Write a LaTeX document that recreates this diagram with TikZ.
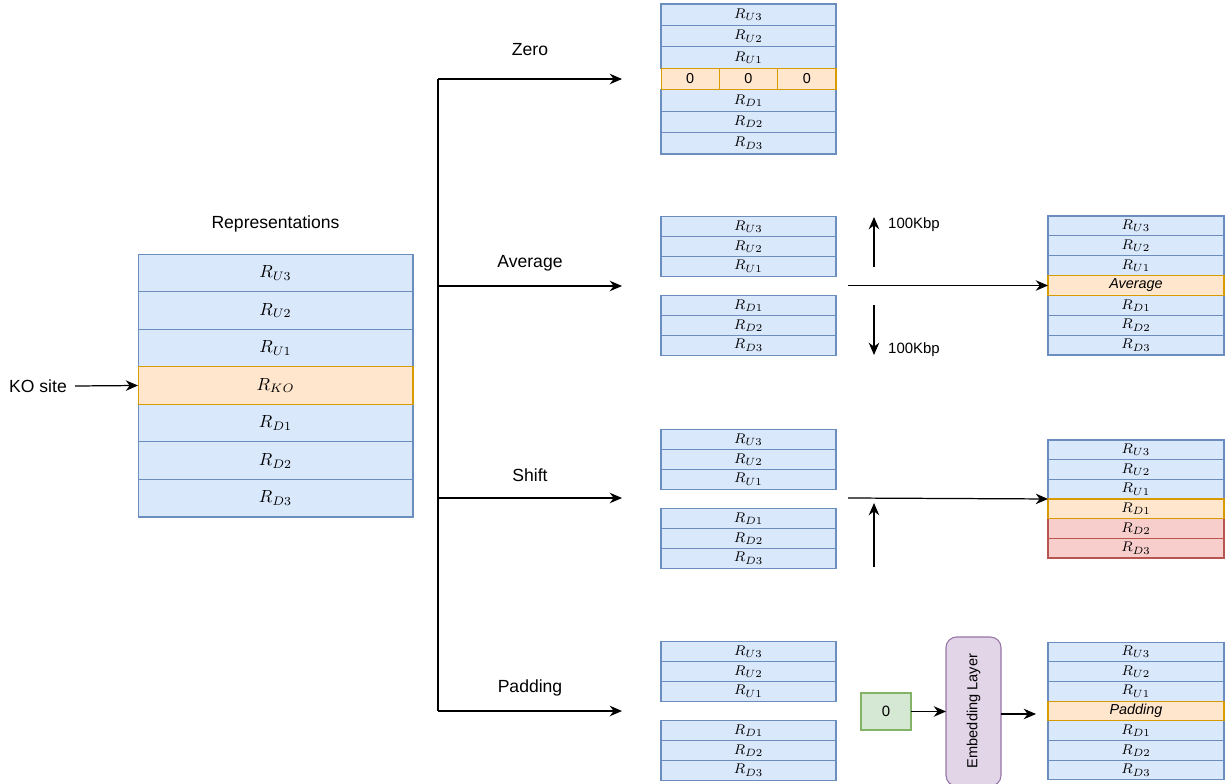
\documentclass[tikz,border=0pt]{standalone}
\usepackage[no-math]{fontspec}
\setmainfont{Liberation Sans}
\usetikzlibrary{arrows.meta}
\definecolor{bluefill}{HTML}{DAE8FC}
\definecolor{bluedraw}{HTML}{6C8EBF}
\definecolor{orangefill}{HTML}{FFE6CC}
\definecolor{orangedraw}{HTML}{D79B00}
\definecolor{redfill}{HTML}{F8CECC}
\definecolor{reddraw}{HTML}{B85450}
\definecolor{greenfill}{HTML}{D5E8D4}
\definecolor{greendraw}{HTML}{82B366}
\definecolor{purplefill}{HTML}{E1D5E7}
\definecolor{purpledraw}{HTML}{9673A6}
\begin{document}
\begin{tikzpicture}[x=0.02cm,y=-0.02cm]
\tikzstyle{cell}=[draw,line width=0.6pt,inner sep=0pt,outer sep=0pt,font=\fontsize{8.2}{9}\selectfont]
\tikzstyle{bigcell}=[cell,minimum width=5.5cm,minimum height=0.751cm,font=\fontsize{10.3}{12}\selectfont]
\tikzstyle{midcell}=[cell,minimum width=3.5cm,minimum height=0.394cm]
\tikzstyle{zerocell}=[cell,minimum width=3.5cm,minimum height=0.429cm]
\tikzstyle{outcell}=[cell,minimum width=3.52cm,minimum height=0.396cm]
\tikzstyle{blue}=[fill=bluefill,draw=bluedraw]
\tikzstyle{orange}=[fill=orangefill,draw=orangedraw]
\tikzstyle{red}=[fill=redfill,draw=reddraw]
\tikzstyle{label}=[font=\fontsize{10}{12}\selectfont]
\tikzstyle{small}=[font=\fontsize{8.5}{10}\selectfont]
\tikzstyle{edge}=[line width=0.7pt,-{Stealth[length=7pt,width=6pt]}]
\useasboundingbox (0,0) rectangle (1225,784);
% representations
\node[label] (reptitle) at (275.5,224) {Representations};
\node[bigcell,blue] (rU3) at (275.5,272.8) {$R_{U3}$};
\node[bigcell,blue] (rU2) at (275.5,310.4) {$R_{U2}$};
\node[bigcell,blue] (rU1) at (275.5,348.0) {$R_{U1}$};
\node[bigcell,blue] (rD1) at (275.5,423.1) {$R_{D1}$};
\node[bigcell,blue] (rD2) at (275.5,460.7) {$R_{D2}$};
\node[bigcell,blue] (rD3) at (275.5,498.2) {$R_{D3}$};
\node[bigcell,orange] (rKO) at (275.5,385.5) {$R_{KO}$};
\node[label] (kosite) at (38,386) {KO site};
\coordinate (kostart) at (75,386);
\draw[edge] (kostart) -- (rKO.west);
% branches
\coordinate (split0) at (438,79);
\coordinate (split1) at (438,286);
\coordinate (split2) at (438,498);
\coordinate (split3) at (438,711);
\coordinate (zeroend) at (622,79);
\coordinate (avgend) at (622,286);
\coordinate (shiftend) at (622,498);
\coordinate (padend) at (622,711);
\draw[line width=0.7pt] (split0) -- (split3);
\draw[edge] (split0) -- (zeroend);
\draw[edge] (split1) -- (avgend);
\draw[edge] (split2) -- (shiftend);
\draw[edge] (split3) -- (padend);
\node[label] (zerolabel) at (530,50) {Zero};
\node[label] (avglabel) at (530,263) {Average};
\node[label] (shiftlabel) at (530,475) {Shift};
\node[label] (padlabel) at (530,688) {Padding};
% zero
\node[zerocell,blue] (zU3) at (748.5,14.7) {$R_{U3}$};
\node[zerocell,blue] (zU2) at (748.5,36.1) {$R_{U2}$};
\node[zerocell,blue] (zU1) at (748.5,57.6) {$R_{U1}$};
\node[zerocell,blue] (zD1) at (748.5,100.4) {$R_{D1}$};
\node[zerocell,blue] (zD2) at (748.5,121.9) {$R_{D2}$};
\node[zerocell,blue] (zD3) at (748.5,143.3) {$R_{D3}$};
\node[zerocell,orange,minimum width=1.167cm] (z0a) at (690.2,79.0) {0};
\node[zerocell,orange,minimum width=1.167cm] (z0b) at (748.5,79.0) {0};
\node[zerocell,orange,minimum width=1.167cm] (z0c) at (806.8,79.0) {0};
% average
\node[midcell,blue] (aU3) at (748.5,226.8) {$R_{U3}$};
\node[midcell,blue] (aU2) at (748.5,246.5) {$R_{U2}$};
\node[midcell,blue] (aU1) at (748.5,266.2) {$R_{U1}$};
\node[midcell,blue] (aD1) at (748.5,305.8) {$R_{D1}$};
\node[midcell,blue] (aD2) at (748.5,325.5) {$R_{D2}$};
\node[midcell,blue] (aD3) at (748.5,345.2) {$R_{D3}$};
\coordinate (aupstart) at (874,267);
\coordinate (aupend) at (874,217);
\coordinate (adownstart) at (874,305);
\coordinate (adownend) at (874,355);
\draw[edge] (aupstart) -- (aupend);
\draw[edge] (adownstart) -- (adownend);
\node[small,anchor=west] (aupkbp) at (882,225) {100Kbp};
\node[small,anchor=west] (adownkbp) at (882,350) {100Kbp};
\node[outcell,blue] (aoU3) at (1136,225.9) {$R_{U3}$};
\node[outcell,blue] (aoU2) at (1136,245.8) {$R_{U2}$};
\node[outcell,blue] (aoU1) at (1136,265.6) {$R_{U1}$};
\node[outcell,blue] (aoD1) at (1136,305.4) {$R_{D1}$};
\node[outcell,blue] (aoD2) at (1136,325.2) {$R_{D2}$};
\node[outcell,blue] (aoD3) at (1136,345.1) {$R_{D3}$};
\node[outcell,orange] (aoavg) at (1136,285.5) {\itshape Average};
\coordinate (astart) at (848,285.5);
\draw[edge] (astart) -- (aoavg.west);
% shift
\node[midcell,blue] (sU3) at (748.5,439.8) {$R_{U3}$};
\node[midcell,blue] (sU2) at (748.5,459.5) {$R_{U2}$};
\node[midcell,blue] (sU1) at (748.5,479.2) {$R_{U1}$};
\node[midcell,blue] (sD1) at (748.5,518.8) {$R_{D1}$};
\node[midcell,blue] (sD2) at (748.5,538.5) {$R_{D2}$};
\node[midcell,blue] (sD3) at (748.5,558.2) {$R_{D3}$};
\coordinate (supstart) at (874,567);
\coordinate (supend) at (874,503);
\draw[edge] (supstart) -- (supend);
\node[outcell,blue,minimum height=0.393cm] (soU3) at (1136,449.8) {$R_{U3}$};
\node[outcell,blue,minimum height=0.393cm] (soU2) at (1136,469.5) {$R_{U2}$};
\node[outcell,blue,minimum height=0.393cm] (soU1) at (1136,489.2) {$R_{U1}$};
\node[outcell,red,minimum height=0.393cm] (soD2) at (1136,528.5) {$R_{D2}$};
\node[outcell,red,minimum height=0.393cm] (soD3) at (1136,548.2) {$R_{D3}$};
\node[outcell,orange,minimum height=0.393cm] (soD1) at (1136,508.8) {$R_{D1}$};
\coordinate (sstart) at (848,498);
\draw[edge] (sstart) -- (soD1.north west);
% padding
\node[midcell,blue] (pU3) at (748.5,651.8) {$R_{U3}$};
\node[midcell,blue] (pU2) at (748.5,671.5) {$R_{U2}$};
\node[midcell,blue] (pU1) at (748.5,691.2) {$R_{U1}$};
\node[midcell,blue] (pD1) at (748.5,730.8) {$R_{D1}$};
\node[midcell,blue] (pD2) at (748.5,750.5) {$R_{D2}$};
\node[midcell,blue] (pD3) at (748.5,770.2) {$R_{D3}$};
\node[cell,fill=greenfill,draw=greendraw,minimum width=1.0cm,minimum height=0.74cm,font=\fontsize{8.5}{10}\selectfont] (zero) at (886,711.5) {0};
\node[cell,fill=purplefill,draw=purpledraw,rounded corners=6pt,minimum width=1.1cm,minimum height=2.98cm] (embed) at (973.5,711.5) {};
\node[rotate=90,font=\fontsize{8.3}{10}\selectfont] (embedtext) at (973.5,711) {Embedding Layer};
\draw[edge] (zero) -- (embed.west |- zero);
\coordinate (embedout) at (1001,714);
\coordinate (embedend) at (1036,714);
\draw[edge] (embedout) -- (embedend);
\node[outcell,blue,minimum height=0.394cm] (poU3) at (1136,651.9) {$R_{U3}$};
\node[outcell,blue,minimum height=0.394cm] (poU2) at (1136,671.6) {$R_{U2}$};
\node[outcell,blue,minimum height=0.394cm] (poU1) at (1136,691.3) {$R_{U1}$};
\node[outcell,blue,minimum height=0.394cm] (poD1) at (1136,730.7) {$R_{D1}$};
\node[outcell,blue,minimum height=0.394cm] (poD2) at (1136,750.4) {$R_{D2}$};
\node[outcell,blue,minimum height=0.394cm] (poD3) at (1136,770.1) {$R_{D3}$};
\node[outcell,orange,minimum height=0.394cm] (popad) at (1136,711.0) {\itshape Padding};
\end{tikzpicture}
\end{document}
